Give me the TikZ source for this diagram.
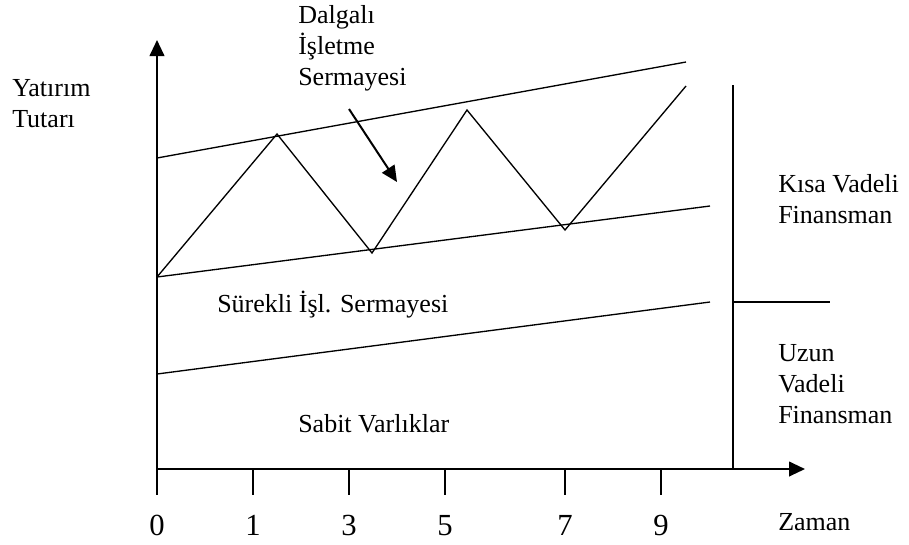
\documentclass[tikz,border=0pt]{standalone}
\usepackage{fontspec}
\setmainfont{Liberation Serif}
\usetikzlibrary{arrows.meta}

\begin{document}
\begin{tikzpicture}[x=0.75pt, y=-0.75pt, every node/.style={font=\fontsize{19.5}{23}\selectfont, inner sep=0pt}]
\tikzstyle{lbl}=[anchor=base west, align=left]
\tikzstyle{num}=[anchor=base, font=\fontsize{23}{27}\selectfont]
\tikzstyle{axis}=[line width=1.5pt, -{Triangle[length=12pt, width=11pt]}]
\tikzstyle{curve}=[line width=1pt]
\useasboundingbox (0,0) rectangle (909,544);
% axes
\coordinate (o) at (157,469);
\coordinate (ytop) at (157,40);
\coordinate (xend) at (805,469);
\draw[axis] (o)--(ytop);
\draw[axis] (o)--(xend);
\foreach \n/\x in {0/157,1/253,3/349,5/445,7/565,9/661}{
  \draw[curve] (\x,469) -- (\x,495) coordinate (k\n);
  \node[num] (t\n) at (\x,535) {\n};
}
% bands
\coordinate (u1) at (157,158); \coordinate (u2) at (686,62);
\coordinate (m1) at (157,277); \coordinate (m2) at (710,206);
\coordinate (l1) at (157,374); \coordinate (l2) at (710,302);
\draw[curve] (u1)--(u2);
\draw[curve] (m1)--(m2);
\draw[curve] (l1)--(l2);
\coordinate (z1) at (277,134); \coordinate (z2) at (372,253);
\coordinate (z3) at (467,110); \coordinate (z4) at (565,230);
\coordinate (z5) at (686,86);
\draw[curve] (m1)--(z1)--(z2)--(z3)--(z4)--(z5);
% financing split
\coordinate (f1) at (733,85); \coordinate (f2) at (733,469);
\coordinate (s1) at (733,302); \coordinate (s2) at (830,302);
\draw[curve] (f1)--(f2);
\draw[curve] (s1)--(s2);
% labels (base = last line)
\node[lbl] (yat) at (12,127) {Yatırım\\Tutarı};
\node[lbl] (dal) at (298,85) {Dalgalı\\İşletme\\Sermayesi};
\node[lbl] (sur) at (217,312) {Sürekli İşl. Sermayesi};
\node[lbl] (sab) at (298,432) {Sabit Varlıklar};
\node[lbl] (kisa) at (778,223) {Kısa Vadeli\\Finansman};
\node[lbl] (uzun) at (778,423) {Uzun\\Vadeli\\Finansman};
\node[lbl] (zam) at (778,530) {Zaman};
\coordinate (a1) at (349,109); \coordinate (a2) at (397,182);
\draw[line width=1.5pt, -{Triangle[length=12pt, width=11pt]}] (a1)--(a2);
\end{tikzpicture}
\end{document}
